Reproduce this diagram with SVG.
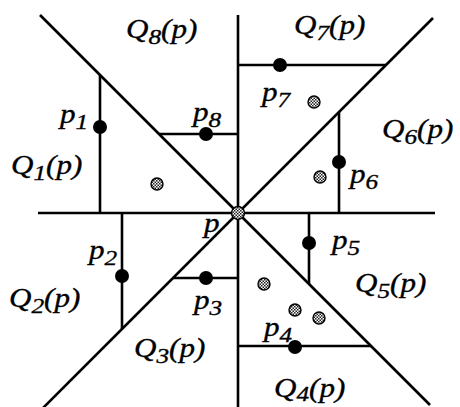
<svg xmlns="http://www.w3.org/2000/svg" width="460" height="407" viewBox="0 0 460 407">
<style>
.ln{stroke:#000;stroke-width:2.6;fill:none;stroke-linecap:butt}
.lbl{font-family:"Liberation Serif","Times New Roman",serif;font-style:italic;font-size:27px;fill:#000;stroke:#000;stroke-width:0.35}
.sub{font-size:22px}
.pt{fill:#000}
.hp{fill:url(#hatch);stroke:#000;stroke-width:1.4}
</style>
<defs>
<pattern id="hatch" width="3" height="3" patternUnits="userSpaceOnUse">
<rect width="3" height="3" fill="#fff"/>
<rect width="1.5" height="1.5" fill="#222"/>
<rect x="1.5" y="1.5" width="1.5" height="1.5" fill="#222"/>
</pattern>
</defs>
<rect width="460" height="407" fill="#fff"/>
<g id="center-label"><text class="lbl" transform="translate(204,232) scale(1.15,1)">p</text></g>
<g id="connectors">
<line class="ln" x1="238" y1="15" x2="238" y2="407"/>
<line class="ln" x1="38" y1="213" x2="435" y2="213"/>
<line class="ln" x1="40" y1="15" x2="430" y2="405"/>
<line class="ln" x1="41" y1="410" x2="433" y2="18"/>
<line class="ln" x1="100" y1="75" x2="100" y2="213"/>
<line class="ln" x1="159" y1="134" x2="238" y2="134"/>
<line class="ln" x1="238" y1="65" x2="386" y2="65"/>
<line class="ln" x1="339" y1="112" x2="339" y2="213"/>
<line class="ln" x1="309" y1="213" x2="309" y2="284"/>
<line class="ln" x1="238" y1="346" x2="371" y2="346"/>
<line class="ln" x1="173" y1="278" x2="238" y2="278"/>
<line class="ln" x1="122" y1="213" x2="122" y2="329"/>
</g>
<g id="p"><circle class="hp" cx="238" cy="213" r="6.5"/></g>
<g id="p1"><circle class="pt" cx="100" cy="127" r="7"/><text class="lbl" transform="translate(60,123) scale(1.15,1)">p<tspan class="sub" dy="6">1</tspan></text></g>
<g id="p2"><circle class="pt" cx="122" cy="276" r="7"/><text class="lbl" transform="translate(89,259) scale(1.15,1)">p<tspan class="sub" dy="6">2</tspan></text></g>
<g id="p3"><circle class="pt" cx="206" cy="278" r="7"/><text class="lbl" transform="translate(194,309) scale(1.15,1)">p<tspan class="sub" dy="6">3</tspan></text></g>
<g id="p4"><circle class="pt" cx="295" cy="347" r="7"/><text class="lbl" transform="translate(264,336) scale(1.15,1)">p<tspan class="sub" dy="6">4</tspan></text></g>
<g id="p5"><circle class="pt" cx="309" cy="243" r="7"/><text class="lbl" transform="translate(332,249) scale(1.15,1)">p<tspan class="sub" dy="6">5</tspan></text></g>
<g id="p6"><circle class="pt" cx="339" cy="162" r="7"/><text class="lbl" transform="translate(350,183) scale(1.15,1)">p<tspan class="sub" dy="6">6</tspan></text></g>
<g id="p7"><circle class="pt" cx="280" cy="65" r="7"/><text class="lbl" transform="translate(262,101) scale(1.15,1)">p<tspan class="sub" dy="6">7</tspan></text></g>
<g id="p8"><circle class="pt" cx="206" cy="134" r="7"/><text class="lbl" transform="translate(193,121) scale(1.15,1)">p<tspan class="sub" dy="6">8</tspan></text></g>
<g id="others">
<circle class="hp" cx="157" cy="184" r="6"/>
<circle class="hp" cx="314" cy="102" r="6"/>
<circle class="hp" cx="320" cy="177" r="6"/>
<circle class="hp" cx="264" cy="284" r="6"/>
<circle class="hp" cx="295" cy="310" r="6"/>
<circle class="hp" cx="319" cy="318" r="6"/>
</g>
<g id="Q1"><text class="lbl" transform="translate(11,174) scale(1.15,1)">Q<tspan class="sub" dy="6">1</tspan><tspan dy="-6">(p)</tspan></text></g>
<g id="Q2"><text class="lbl" transform="translate(9,307) scale(1.15,1)">Q<tspan class="sub" dy="6">2</tspan><tspan dy="-6">(p)</tspan></text></g>
<g id="Q3"><text class="lbl" transform="translate(134,357) scale(1.15,1)">Q<tspan class="sub" dy="6">3</tspan><tspan dy="-6">(p)</tspan></text></g>
<g id="Q4"><text class="lbl" transform="translate(274,397) scale(1.15,1)">Q<tspan class="sub" dy="4">4</tspan><tspan dy="-4">(p)</tspan></text></g>
<g id="Q5"><text class="lbl" transform="translate(355,292) scale(1.15,1)">Q<tspan class="sub" dy="6">5</tspan><tspan dy="-6">(p)</tspan></text></g>
<g id="Q6"><text class="lbl" transform="translate(382,138) scale(1.15,1)">Q<tspan class="sub" dy="6">6</tspan><tspan dy="-6">(p)</tspan></text></g>
<g id="Q7"><text class="lbl" transform="translate(294,34) scale(1.15,1)">Q<tspan class="sub" dy="6">7</tspan><tspan dy="-6">(p)</tspan></text></g>
<g id="Q8"><text class="lbl" transform="translate(126,38) scale(1.15,1)">Q<tspan class="sub" dy="6">8</tspan><tspan dy="-6">(p)</tspan></text></g>
</svg>
